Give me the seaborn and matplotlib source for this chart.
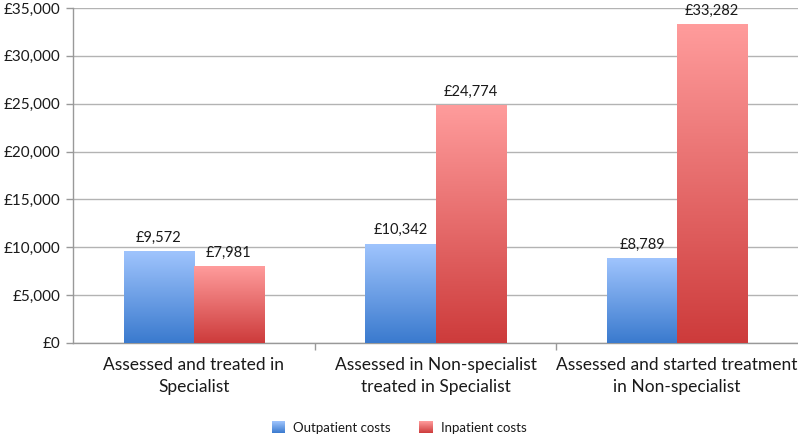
import numpy as np
import pandas as pd
import matplotlib
matplotlib.use("Agg")
import matplotlib.pyplot as plt
import seaborn as sns
from matplotlib.colors import LinearSegmentedColormap
from matplotlib.patches import Patch, Rectangle
from matplotlib.legend_handler import HandlerBase
from matplotlib.ticker import FuncFormatter, FixedLocator

categories = ["Assessed and treated in\nSpecialist",
              "Assessed in Non-specialist\ntreated in Specialist",
              "Assessed and started treatment\nin Non-specialist"]
series = ["Outpatient costs", "Inpatient costs"]
outpatient = [9572, 10342, 8789]
inpatient = [7981, 24774, 33282]
yticks = [0, 5000, 10000, 15000, 20000, 25000, 30000, 35000]

df = pd.DataFrame({
    "category": categories * 2,
    "series": [series[0]] * 3 + [series[1]] * 3,
    "cost": outpatient + inpatient,
})

blue_top, blue_bot = "#9fc4fd", "#3a7ace"
red_top, red_bot = "#ff9c9c", "#cd3b3b"

sns.set_theme(style="white")
plt.rcParams['font.family'] = ['Lato', 'DejaVu Sans']
txt = "#1a1a1a"
grid_c = "#b3b3b3"

fig = plt.figure(figsize=(7.98, 4.37), dpi=100)
ax = fig.add_axes([73 / 798, 1 - 343 / 437, 725 / 798, 335 / 437])
sns.barplot(data=df, x="category", y="cost", hue="series",
            palette=[blue_bot, red_bot], width=0.58, saturation=1,
            legend=False, ax=ax, zorder=3)

grads = [(blue_top, blue_bot), (red_top, red_bot)]
for cont, (top, bot) in zip(ax.containers, grads):
    cmap = LinearSegmentedColormap.from_list("g", [bot, top])
    for p in cont.patches:
        x0, w, h = p.get_x(), p.get_width(), p.get_height()
        grad = np.linspace(0, 1, 256).reshape(-1, 1)
        ax.imshow(grad, cmap=cmap, origin="lower", aspect="auto",
                  extent=[x0, x0 + w, 0, h], zorder=3, interpolation="bilinear")
        p.set_facecolor("none")
        p.set_edgecolor("none")
    ax.bar_label(cont, labels=[f"£{v:,.0f}" for v in cont.datavalues],
                 padding=5, fontsize=10.5, color=txt)

ax.set_xlim(-0.5, 2.5)
ax.set_ylim(0, 35000)
ax.yaxis.set_major_locator(FixedLocator(yticks))
ax.yaxis.set_major_formatter(FuncFormatter(lambda v, _: f"£{v:,.0f}"))
ax.grid(axis="y", color=grid_c, linewidth=1.0, zorder=0)
ax.set_axisbelow(True)
ax.set_xlabel("")
ax.set_ylabel("")
for s in ["top", "right"]:
    ax.spines[s].set_visible(False)
for s in ["left", "bottom"]:
    ax.spines[s].set_color("#999999")
    ax.spines[s].set_linewidth(1.0)
ax.tick_params(axis="y", which="major", length=5, width=1, color="#999999",
               labelsize=11, labelcolor=txt, pad=4, left=True)
ax.tick_params(axis="x", which="major", length=0, labelsize=12.5, labelcolor=txt, pad=10)
for lab in ax.get_xticklabels():
    lab.set_linespacing(1.45)
ax.xaxis.set_minor_locator(FixedLocator([0.5, 1.5]))
ax.tick_params(axis="x", which="minor", length=5, width=1, color="#999999", bottom=True)


class GradientHandler(HandlerBase):
    def __init__(self, top, bot):
        super().__init__()
        self.cmap = LinearSegmentedColormap.from_list("g", [bot, top])

    def create_artists(self, legend, orig_handle, xdescent, ydescent,
                       width, height, fontsize, trans):
        n = 12
        arts = []
        for i in range(n):
            r = Rectangle((-xdescent, -ydescent + height * i / n), width, height / n + 0.3,
                          facecolor=self.cmap((i + 0.5) / n), edgecolor="none",
                          transform=trans)
            arts.append(r)
        return arts


h_out = Patch(facecolor=blue_top, label=series[0])
h_in = Patch(facecolor=red_top, label=series[1])
fig.legend(handles=[h_out, h_in], loc="lower center", bbox_to_anchor=(0.5, -0.02),
           ncol=2, frameon=False, fontsize=9.5, handlelength=1.0, handleheight=1.0,
           columnspacing=2.2, handletextpad=0.6, labelcolor=txt,
           handler_map={h_out: GradientHandler(blue_top, blue_bot),
                        h_in: GradientHandler(red_top, red_bot)})

fig.savefig("out.png", dpi=100)
